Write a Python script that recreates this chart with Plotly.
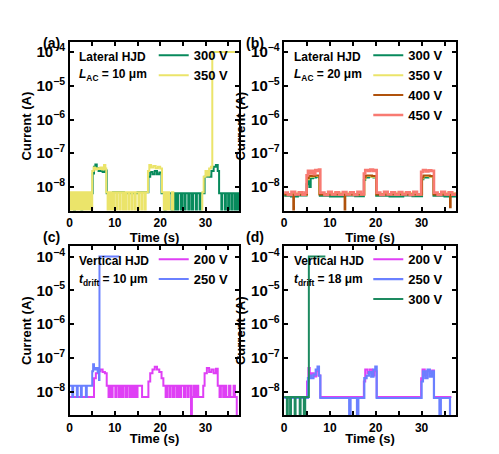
"""plot.py - time-resolved leakage current of lateral / vertical HJDs"""
import plotly.graph_objects as go
from plotly.subplots import make_subplots

NA = 1e-9    # all currents below are written in nA
TOP = 1e5    # compliance, 1e-4 A
LOW = 1.0    # dips below the lower axis limit

# (a) Lateral HJD, L_AC = 10 um : (time s, current nA)
a300 = [(0, 6.5), (1.0, LOW), (1.2, 6.5), (2.6, LOW), (2.8, 6.5), (5.1, 25), (5.4, 40), (5.7, 46),
        (6.0, 36), (6.4, 30), (6.9, 33), (7.3, 28), (7.8, 31), (8.2, 6.5), (9.6, 7), (12.0, 6.5),
        (15.0, 7), (17.4, 20), (17.8, 28), (18.3, 24), (18.8, 30), (19.3, 24), (19.8, 27), (20.3, 6.5),
        (21.0, LOW), (21.2, 6.5), (22.5, LOW), (22.7, 6.5), (23.2, LOW), (23.4, 6.5), (23.8, LOW),
        (24.0, 6.5), (24.6, LOW), (24.9, 6.5), (25.4, LOW), (25.6, 6.5), (26.2, LOW), (26.5, 6.5),
        (27.0, LOW), (27.3, 6.5), (27.9, LOW), (28.1, 6.5), (28.7, LOW), (28.9, 6.5), (29.8, 20),
        (30.3, 23), (30.8, 20), (31.3, 30), (31.8, 40), (32.3, 45), (32.7, 30), (33.0, 6.5),
        (33.5, LOW), (33.7, 6.5), (34.3, LOW), (34.5, 6.5), (35.0, LOW), (35.2, 6.5), (35.7, LOW),
        (35.9, 6.5), (36.4, LOW), (36.6, 6.5), (37.0, LOW), (37.2, 6.5), (37.5, 6.5)]
a350 = [(0, 7), (0.3, LOW), (0.5, 7), (0.9, LOW), (1.1, 7), (1.4, LOW), (1.6, 7), (2.0, LOW),
        (2.3, 7), (2.5, LOW), (2.8, 7), (3.2, LOW), (3.5, 7), (3.7, LOW), (4.0, 7), (4.3, LOW),
        (4.5, 7), (4.8, LOW), (5.0, 30), (5.3, 38), (5.6, 33), (6.0, 36), (6.4, 34), (6.8, 38),
        (7.2, 33), (7.6, 45), (7.9, 35), (8.1, 7), (8.4, LOW), (8.6, 7), (9.0, LOW), (9.2, 7),
        (9.6, LOW), (9.8, 7), (10.3, LOW), (10.5, 7), (11.0, LOW), (11.2, 7), (11.7, LOW), (11.9, 7),
        (12.3, LOW), (12.5, 7), (13.0, LOW), (13.2, 7), (13.7, LOW), (13.9, 7), (14.4, LOW),
        (14.6, 7), (15.2, LOW), (15.4, 7), (15.9, LOW), (16.1, 7), (16.6, LOW), (16.8, 7),
        (17.3, 30), (17.6, 45), (18.0, 38), (18.5, 42), (19.0, 36), (19.5, 40), (20.0, 35),
        (20.4, 7), (20.8, LOW), (21.0, 7), (21.4, LOW), (21.6, 7), (22.0, LOW), (22.6, 7),
        (22.9, LOW), (29.3, 7), (29.6, 20), (30.0, 30), (30.4, 22), (30.8, 35), (31.2, 40),
        (31.5, TOP), (37.5, TOP)]

# (b) Lateral HJD, L_AC = 20 um
b300 = [(0, 5.5), (1.5, 5.2), (3.0, 5.6), (4.9, 12), (5.2, 18), (5.5, 10), (5.8, 18), (6.3, 19),
        (7.0, 20), (7.6, 19), (7.8, 5.5), (10.0, 5.2), (13.0, 5.6), (15.5, 5.3), (17.4, 16),
        (17.7, 19), (18.5, 20), (19.5, 19), (20.1, 5.5), (23.0, 5.2), (26.0, 5.6), (28.0, 5.3),
        (30.1, 17), (30.4, 19), (31.5, 20), (32.6, 5.5), (35.0, 5.2), (37.5, 5.5)]
b350 = [(0, 6.2), (2.0, 6.5), (4.0, 6.0), (5.0, 17), (5.4, 20), (6.5, 21), (7.7, 6.2), (11.0, 6.5),
        (14.0, 6.0), (17.5, 18), (17.8, 21), (19.0, 20), (20.1, 6.2), (24.0, 6.5), (28.0, 6.0),
        (30.1, 18), (30.4, 21), (31.8, 20), (32.6, 6.2), (35.5, 6.5), (37.5, 6.2)]
b400 = [(0, 6.0), (2.0, LOW), (2.15, 6.0), (5.0, 18), (5.4, 21), (6.8, 22), (7.7, 6.0),
        (13.2, LOW), (13.35, 6.0), (17.5, 19), (17.8, 22), (19.2, 21), (20.1, 6.0), (30.1, 19),
        (30.4, 22), (31.8, 21), (32.6, 6.0), (36.2, 2.5), (36.35, 6.0), (37.5, 6.0)]
b450 = [(0, 6.8), (0.8, 5.8), (1.6, 7.2), (2.4, 6.0), (3.2, 7.0), (4.0, 5.9), (4.6, 6.8),
        (4.9, 22), (5.2, 30), (5.6, 25), (6.0, 30), (6.5, 24), (6.8, 32), (7.2, 30), (7.6, 33),
        (7.9, 6.8), (8.8, 5.8), (9.6, 7.2), (10.4, 6.0), (11.2, 7.0), (12.0, 5.9), (12.8, 7.1),
        (13.6, 6.0), (14.4, 7.0), (15.2, 5.8), (16.0, 7.2), (16.8, 6.0), (17.4, 25), (17.7, 32),
        (18.3, 30), (18.8, 33), (19.4, 30), (19.9, 32), (20.2, 6.8), (21.0, 5.8), (21.8, 7.2),
        (22.6, 6.0), (23.4, 7.0), (24.2, 5.9), (25.0, 7.1), (25.8, 6.0), (26.6, 7.0), (27.4, 5.8),
        (28.2, 7.2), (29.0, 6.0), (29.9, 28), (30.3, 32), (30.9, 29), (31.5, 31), (32.1, 30),
        (32.7, 6.8), (33.5, 5.8), (34.3, 7.2), (35.1, 6.0), (35.9, 7.0), (36.7, 5.9), (37.5, 6.8)]

# (c) Vertical HJD, t_drift = 10 um
c200 = [(0, 7), (5.0, 7), (5.4, 25), (5.8, 35), (6.3, 40), (6.8, 45), (7.3, 38), (7.8, 35),
        (8.2, 15), (8.6, 7), (8.9, 15), (9.2, 7), (9.5, 15), (10.1, 7), (10.4, 15), (10.9, 7),
        (11.2, 15), (11.6, 7), (11.9, 15), (12.4, 7), (12.7, 15), (13.2, 7), (13.6, 15), (14.0, 7),
        (14.3, 15), (14.7, 7), (15.0, 15), (16.0, 7), (17.4, 20), (17.8, 35), (18.3, 45),
        (18.8, 55), (19.3, 45), (19.8, 38), (20.3, 25), (20.7, 15), (21.2, 7), (21.5, 15),
        (22.0, 7), (22.3, 15), (22.8, 7), (23.1, 15), (23.6, 7), (23.9, 15), (24.3, 7), (24.6, 15),
        (25.2, 7), (25.5, 15), (26.0, 7), (26.3, 15), (26.8, LOW), (27.0, 7), (27.3, 15),
        (27.6, 7), (28.0, 15), (28.4, 7), (29.5, 15), (29.8, 35), (30.3, 50), (30.8, 38),
        (31.3, 45), (31.8, 35), (32.3, 48), (32.7, 15), (33.1, 7), (33.4, 15), (33.9, 7),
        (34.2, 15), (34.6, 7), (35.2, 15), (35.5, 7), (36.2, 15), (36.5, 7), (36.9, LOW), (37.1, LOW)]
c250 = [(0, 15), (0.6, 7), (0.8, 15), (1.6, 7), (1.8, 15), (2.5, 7), (2.7, 15), (3.6, 7),
        (3.8, 15), (5.0, 40), (5.2, 65), (5.4, 45), (5.8, 50), (6.2, 38), (6.5, 22), (6.6, TOP),
        (11.0, TOP)]

# (d) Vertical HJD, t_drift = 18 um
d200 = [(0, 7), (5.0, 20), (5.3, 50), (5.6, 30), (6.0, 35), (6.5, 28), (7.0, 40), (7.5, 30),
        (7.9, 7), (17.4, 20), (17.7, 45), (18.2, 35), (18.7, 45), (19.2, 30), (19.7, 40),
        (20.2, 7), (29.9, 25), (30.2, 45), (30.7, 30), (31.2, 40), (31.8, 35), (32.3, 42),
        (32.7, 7), (36.5, 7)]
d250 = [(0, 6.5), (5.0, 6.5), (5.2, 25), (5.5, 30), (5.9, 25), (6.4, 32), (6.9, 45), (7.3, 55),
        (7.6, 30), (7.9, 6.5), (14.2, LOW), (14.5, 6.5), (15.9, LOW), (16.2, 6.5), (17.5, 25),
        (18.0, 30), (18.5, 38), (19.0, 28), (19.5, 45), (19.9, 55), (20.2, 6.5), (30.0, 20),
        (30.3, 40), (30.8, 25), (31.3, 45), (31.8, 28), (32.3, 40), (32.7, 6.5), (33.9, LOW),
        (34.2, 6.5), (36.2, LOW), (36.4, LOW)]
d300 = [(0, 7), (0.6, LOW), (0.8, 7), (1.3, LOW), (1.5, 7), (2.3, LOW), (2.5, 7), (3.4, LOW),
        (3.6, 7), (4.3, LOW), (4.6, 7), (5.2, 7), (5.4, TOP), (9.0, TOP)]

GREEN = "#078a5c"
YELLOW = "#ebe46a"
BROWN = "#b0520c"
SALMON = "#f87a72"
MAGENTA = "#df3ff5"
BLUE = "#6a80ff"

panels = [
    (1, 1, "legend", [(a300, "300 V", GREEN, 2), (a350, "350 V", YELLOW, 2)]),
    (1, 2, "legend2", [(b300, "300 V", GREEN, 2), (b350, "350 V", YELLOW, 2),
                       (b400, "400 V", BROWN, 2), (b450, "450 V", SALMON, 2.6)]),
    (2, 1, "legend3", [(c200, "200 V", MAGENTA, 2), (c250, "250 V", BLUE, 2)]),
    (2, 2, "legend4", [(d200, "200 V", MAGENTA, 2), (d250, "250 V", BLUE, 2.2),
                       (d300, "300 V", "#1d8a60", 2)]),
]

FONT = "Liberation Sans, Arial, sans-serif"

fig = make_subplots(rows=2, cols=2)

for row, col, leg, traces in panels:
    for data, name, color, width in traces:
        t, cur = zip(*data)
        fig.add_trace(
            go.Scatter(
                x=list(t),
                y=[c * NA for c in cur],
                mode="lines",
                name=name,
                line=dict(color=color, width=width, shape="hv"),
                legend=leg,
            ),
            row=row,
            col=col,
        )

# the page puts the figure 8 px in from the corner, so the figure is 483 x 438
left_x = [0.122, 0.476]
right_x = [0.569, 0.927]
top_y = [0.530, 0.922]
bot_y = [0.055, 0.4475]
fig.update_layout(
    xaxis=dict(domain=left_x), yaxis=dict(domain=top_y),
    xaxis2=dict(domain=right_x), yaxis2=dict(domain=top_y),
    xaxis3=dict(domain=left_x), yaxis3=dict(domain=bot_y),
    xaxis4=dict(domain=right_x), yaxis4=dict(domain=bot_y),
)

tickfont = dict(family=FONT, size=12, color="black", weight="bold")
titlefont = dict(family=FONT, size=13, color="black", weight="bold")

fig.update_xaxes(
    range=[0, 37.5], dtick=10, tick0=0,
    ticks="inside", ticklen=4, tickwidth=1.5, tickcolor="black",
    minor=dict(dtick=5, ticks="inside", ticklen=4, tickwidth=1.5, tickcolor="black"),
    showline=True, linewidth=2, linecolor="black", mirror="ticks",
    showgrid=False, zeroline=False, tickfont=tickfont,
    title=dict(text="Time (s)", font=titlefont, standoff=2),
)
fig.update_yaxes(
    type="log", range=[-8.7, -3.69], dtick=1, exponentformat="power",
    ticks="inside", ticklen=4, tickwidth=1.5, tickcolor="black",
    showline=True, linewidth=2, linecolor="black", mirror="ticks",
    showgrid=False, zeroline=False, tickfont=tickfont,
    title=dict(text="Current (A)", font=titlefont, standoff=2),
)

legfont = dict(family=FONT, size=13, color="black", weight="bold")
for leg, x, y in [("legend", 0.464, 0.925), ("legend2", 0.911, 0.925),
                  ("legend3", 0.464, 0.452), ("legend4", 0.911, 0.452)]:
    fig.update_layout({leg: dict(x=x, y=y, xanchor="right", yanchor="top",
                                 bgcolor="rgba(0,0,0,0)", font=legfont,
                                 itemwidth=30, tracegroupgap=0)})

labels = [
    ("(a)", 0.062, 0.943), ("(b)", 0.509, 0.943),
    ("(c)", 0.062, 0.468), ("(d)", 0.509, 0.468),
]
for text, x, y in labels:
    fig.add_annotation(text=text, x=x, y=y, xref="paper", yref="paper", showarrow=False,
                       font=dict(family=FONT, size=14, color="black", weight="bold"))

notefont = dict(family=FONT, size=12, color="black", weight="bold")
notes = [
    ("x", "y", "Lateral HJD", "<i>L</i><sub>AC</sub> = 10 μm"),
    ("x2", "y2", "Lateral HJD", "<i>L</i><sub>AC</sub> = 20 μm"),
    ("x3", "y3", "Vertical HJD", "<i>t</i><sub>drift</sub> = 10 μm"),
    ("x4", "y4", "Vertical HJD", "<i>t</i><sub>drift</sub> = 18 μm"),
]
for xr, yr, line1, line2 in notes:
    for text, y in [(line1, 0.91), (line2, 0.80)]:
        fig.add_annotation(text=text, x=0.045, y=y, xref=f"{xr} domain", yref=f"{yr} domain",
                           xanchor="left", yanchor="middle", showarrow=False, font=notefont)

fig.update_layout(
    width=483, height=438, autosize=False,
    margin=dict(l=0, r=0, t=0, b=0),
    paper_bgcolor="white", plot_bgcolor="white",
    font=dict(family=FONT, size=12, color="black", weight="bold"),
)

fig.write_html("out.html")
